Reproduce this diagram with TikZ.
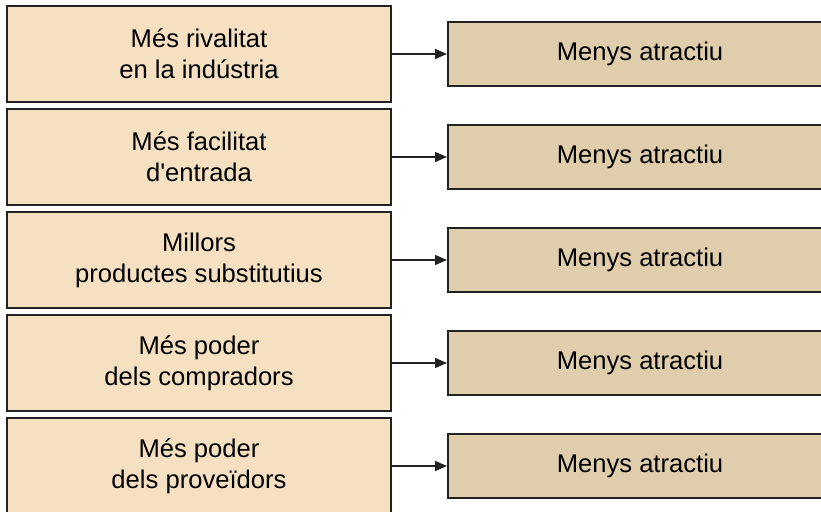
\documentclass[tikz,border=0pt]{standalone}
\usepackage{fontspec}
\setmainfont{Liberation Sans}
\usetikzlibrary{positioning,arrows.meta}
\definecolor{causefill}{HTML}{F5E1C1}
\definecolor{effectfill}{HTML}{E0CDAB}
\definecolor{edgegray}{HTML}{222222}
\tikzset{
  cause/.style={draw=edgegray, line width=1pt, fill=causefill, minimum width=192pt, minimum height=48pt, align=center, inner sep=0pt},
  effect/.style={draw=edgegray, line width=1pt, fill=effectfill, minimum width=192pt, minimum height=32pt, inner sep=0pt},
  link/.style={-{Triangle[length=6pt,width=5pt]}, line width=0.75pt, draw=edgegray}
}
\begin{document}
\begin{tikzpicture}[font=\fontsize{12.8}{15.5}\selectfont, node distance=2.5pt]
   \useasboundingbox (0,0) rectangle (410.5pt,-256pt);

   \node [cause] (rivalry) at (99.5pt,-27pt) {Més rivalitat\\en la indústria};
   \node [cause, below=of rivalry] (entry) {Més facilitat\\d\textquotesingle entrada};
   \node [cause, below=of entry] (substitutes) {Millors\\productes substitutius};
   \node [cause, below=of substitutes] (buyers) {Més poder\\dels compradors};
   \node [cause, below=of buyers] (suppliers) {Més poder\\dels proveïdors};

   \node [effect, right=27.5pt of rivalry] (rivalryout) {Menys atractiu};
   \node [effect, right=27.5pt of entry] (entryout) {Menys atractiu};
   \node [effect, right=27.5pt of substitutes] (substitutesout) {Menys atractiu};
   \node [effect, right=27.5pt of buyers] (buyersout) {Menys atractiu};
   \node [effect, right=27.5pt of suppliers] (suppliersout) {Menys atractiu};

   \draw [link] (rivalry) -- (rivalryout);
   \draw [link] (entry) -- (entryout);
   \draw [link] (substitutes) -- (substitutesout);
   \draw [link] (buyers) -- (buyersout);
   \draw [link] (suppliers) -- (suppliersout);
\end{tikzpicture}
\end{document}
